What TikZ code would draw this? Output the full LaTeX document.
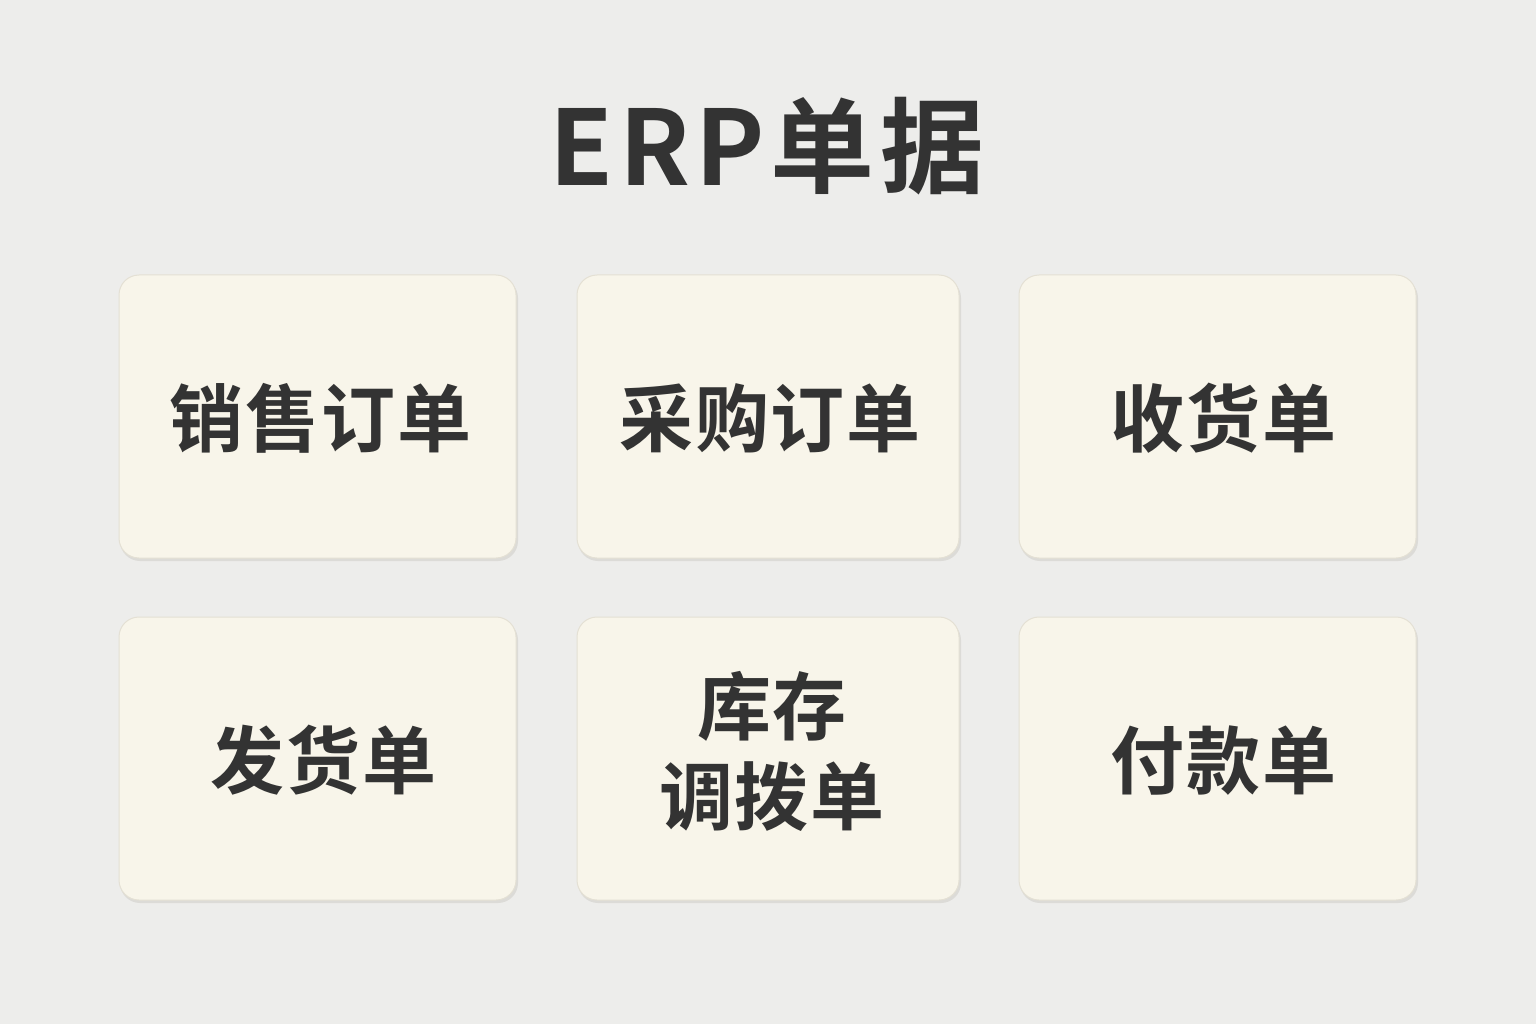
\documentclass[tikz,border=0pt]{standalone}
\usepackage{fontspec}
\newfontfamily\cjk{Noto Sans CJK SC}[BoldFont={Noto Sans CJK SC Bold}]
\definecolor{bg}{HTML}{EDEDEB}
\definecolor{card}{HTML}{F8F5EA}
\definecolor{cardline}{HTML}{E4E0D4}
\definecolor{ink}{HTML}{333333}
\definecolor{shade}{HTML}{C9C7C0}
\tikzset{
  card/.style={draw=cardline, line width=1pt, fill=card, rounded corners=20pt, minimum width=#1, minimum height=283pt, inner sep=0pt},
  cardtext/.style={text=ink, inner sep=0pt, font=\cjk\bfseries\fontsize{74}{92}\selectfont\addfontfeature{LetterSpace=2.5}, align=center},
  cardshadow/.style={fill=shade, opacity=0.45, rounded corners=20pt, draw=none},
}
\begin{document}
\begin{tikzpicture}[x=1pt,y=-1pt]
\fill[bg] (0,0) rectangle (1536,1024);
\useasboundingbox (0,0) rectangle (1536,1024);
\node[text=ink, font=\cjk\bfseries\fontsize{104}{110}\selectfont\addfontfeature{LetterSpace=5.5}, inner sep=0pt] (title) at (767,146) {ERP单据};
% shadows
\foreach \xa/\xb in {119/516, 577/959, 1019/1416}{
  \foreach \ya/\yb in {275/558, 617/900}{
    \fill[cardshadow] (\xa+1,\ya+3) rectangle (\xb+2,\yb+3);
  }
}
\node[card=397pt] (c1) at (317.5,416.5) {};
\node[card=382pt] (c2) at (768,416.5) {};
\node[card=397pt] (c3) at (1217.5,416.5) {};
\node[card=397pt] (c4) at (317.5,758.5) {};
\node[card=382pt] (c5) at (768,758.5) {};
\node[card=397pt] (c6) at (1217.5,758.5) {};
\node[cardtext] (t1) at ([shift={(3,2)}]c1.center) {销售订单};
\node[cardtext] (t2) at ([shift={(2,2)}]c2.center) {采购订单};
\node[cardtext] (t3) at ([shift={(6,2)}]c3.center) {收货单};
\node[cardtext] (t4) at ([shift={(6,2)}]c4.center) {发货单};
\node[cardtext] (t5) at ([shift={(4,-7)}]c5.center) {库存\\[-2pt]调拨单};
\node[cardtext] (t6) at ([shift={(6,2)}]c6.center) {付款单};
\end{tikzpicture}
\end{document}
